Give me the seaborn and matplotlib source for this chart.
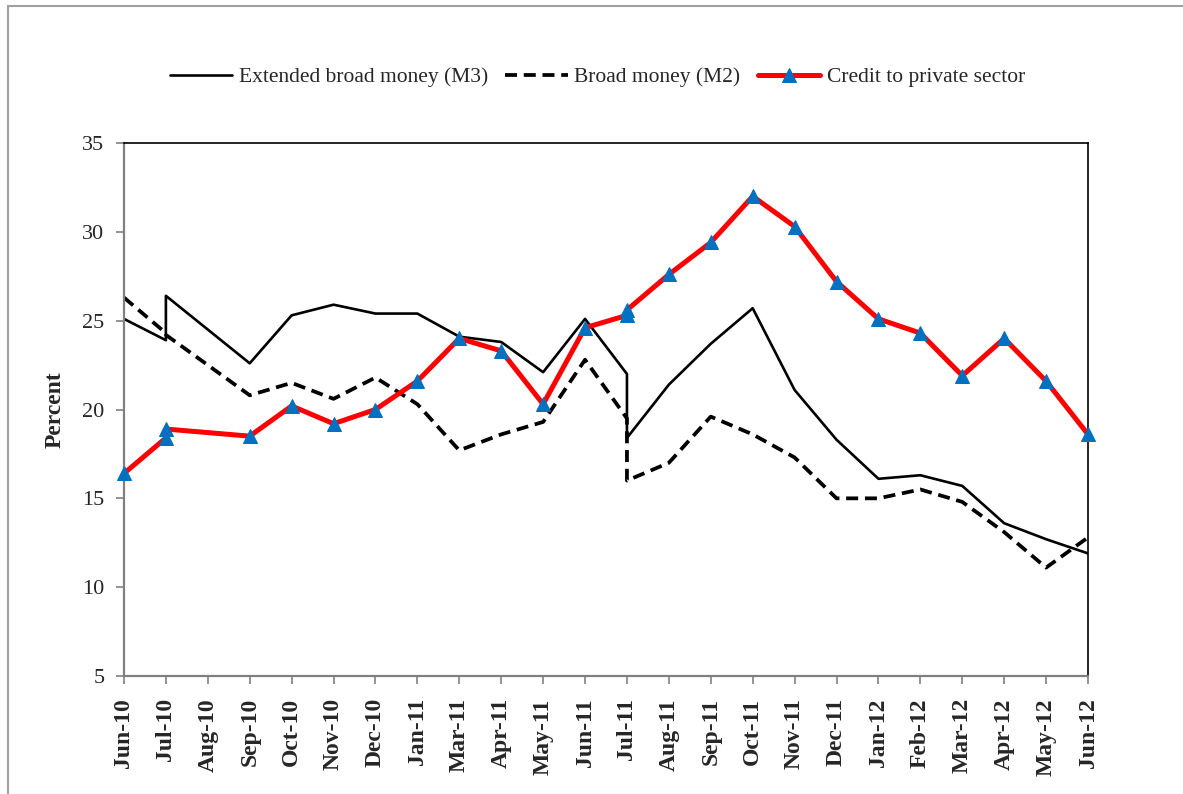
import numpy as np
import pandas as pd
import matplotlib.pyplot as plt
import seaborn as sns
from matplotlib.lines import Line2D

# Category axis labels (Feb-11 is not shown on the axis)
months = ["Jun-10", "Jul-10", "Aug-10", "Sep-10", "Oct-10", "Nov-10", "Dec-10",
          "Jan-11", "Mar-11", "Apr-11", "May-11", "Jun-11", "Jul-11", "Aug-11",
          "Sep-11", "Oct-11", "Nov-11", "Dec-11", "Jan-12", "Feb-12", "Mar-12",
          "Apr-12", "May-12", "Jun-12"]

# Observations (Jul-10 and Jul-11 appear twice, Aug-10 has no data)
periods = ["Jun-10", "Jul-10", "Jul-10", "Sep-10", "Oct-10", "Nov-10", "Dec-10",
           "Jan-11", "Mar-11", "Apr-11", "May-11", "Jun-11", "Jul-11", "Jul-11",
           "Aug-11", "Sep-11", "Oct-11", "Nov-11", "Dec-11", "Jan-12", "Feb-12",
           "Mar-12", "Apr-12", "May-12", "Jun-12"]

m3 = [25.1, 23.9, 26.4, 22.6, 25.3, 25.9, 25.4, 25.4, 24.1, 23.8, 22.1, 25.1,
      22.0, 18.4, 21.4, 23.7, 25.7, 21.1, 18.3, 16.1, 16.3, 15.7, 13.6, 12.7, 11.9]
m2 = [26.3, 24.3, 24.2, 20.8, 21.5, 20.6, 21.8, 20.3, 17.7, 18.6, 19.3, 22.8,
      19.5, 16.0, 17.0, 19.6, 18.6, 17.3, 15.0, 15.0, 15.5, 14.8, 13.1, 11.1, 12.8]
credit = [16.4, 18.4, 18.9, 18.5, 20.2, 19.2, 20.0, 21.6, 24.0, 23.3, 20.3, 24.6,
          25.3, 25.6, 27.6, 29.4, 32.0, 30.3, 27.2, 25.1, 24.3, 21.9, 24.0, 21.6, 18.6]

sns.set_style("white")
plt.rcParams['font.family'] = ['Liberation Serif', 'DejaVu Serif']

df = pd.DataFrame({"period": periods, "M3": m3, "M2": m2, "Credit": credit})
df["pos"] = [months.index(p) for p in periods]

fig, ax = plt.subplots(figsize=(11.83, 7.94), dpi=100)
fig.subplots_adjust(left=0.1048, right=0.9197, top=0.8199, bottom=0.1486)

sns.lineplot(data=df, x="pos", y="M3", estimator=None, sort=False, ax=ax,
             color="black", linewidth=1.9, label="Extended broad money (M3)")
sns.lineplot(data=df, x="pos", y="M2", estimator=None, sort=False, ax=ax,
             color="black", linewidth=2.7, linestyle=(0, (3.2, 1.8)),
             label="Broad money (M2)")
sns.lineplot(data=df, x="pos", y="Credit", estimator=None, sort=False, ax=ax,
             color="#FF0000", linewidth=3.6, marker="^", markersize=10,
             markerfacecolor="#0070C0", markeredgecolor="#0070C0",
             label="Credit to private sector", clip_on=False, zorder=5)

ax.set_xlim(0, len(months) - 1)
ax.set_ylim(5, 35)
ax.set_yticks(np.arange(5, 36, 5))
ax.set_xticks(range(len(months)))
ax.set_xticklabels(months, rotation=90, fontweight="bold", fontsize=17)
ax.tick_params(axis="y", labelsize=16, pad=8)
ax.tick_params(axis="x", pad=10)
ax.tick_params(direction="out", length=6, width=1.2, color="#808080",
               bottom=True, left=True)
ax.set_xlabel("")
ax.set_ylabel("Percent", fontsize=17, fontweight="bold", labelpad=12)

for side in ["top", "right"]:
    ax.spines[side].set_color("black")
    ax.spines[side].set_linewidth(1.2)
for side in ["left", "bottom"]:
    ax.spines[side].set_color("#808080")
    ax.spines[side].set_linewidth(1.6)

handles, labels = ax.get_legend_handles_labels()
ax.get_legend().remove()
fig.legend(handles, labels, loc="center", bbox_to_anchor=(0.505, 0.903),
           ncol=3, frameon=False, fontsize=15.5, handlelength=2.9,
           handletextpad=0.3, columnspacing=0.8)

# outer chart frame (cut off at right and bottom like the original)
x0, y0 = 8 / 1183, 1 - 6 / 794
fig.add_artist(Line2D([x0, x0], [0, y0], transform=fig.transFigure,
                      color="#a0a0a0", linewidth=1.5))
fig.add_artist(Line2D([x0, 1], [y0, y0], transform=fig.transFigure,
                      color="#a0a0a0", linewidth=1.5))

fig.savefig("out.png", dpi=100)
